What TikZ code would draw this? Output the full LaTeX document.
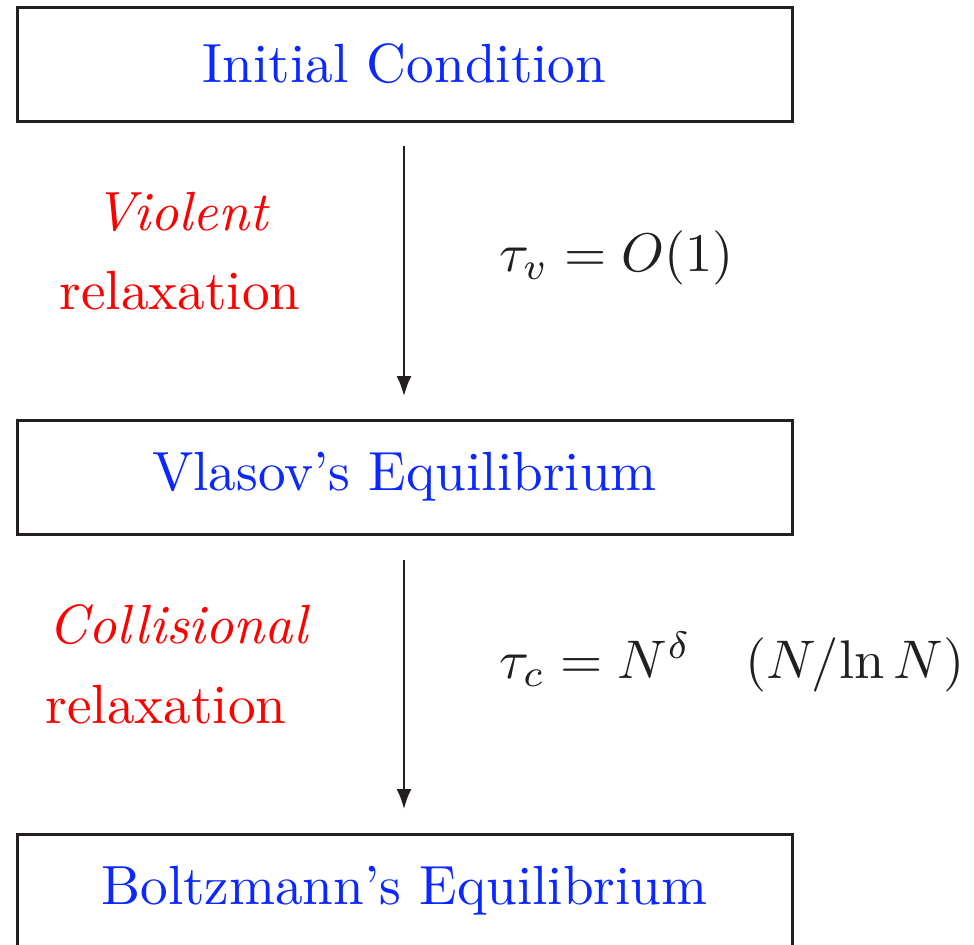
\documentclass[tikz,border=0pt]{standalone}
\usepackage{graphicx}
\usetikzlibrary{arrows.meta}
\definecolor{tblue}{RGB}{10,40,255}
\definecolor{tdark}{RGB}{35,31,32}
\newcommand{\bigtxt}[1]{\scalebox{2.76}{#1}}
\newcommand{\bigmath}[1]{\scalebox{2.72}{#1}}
\begin{document}
\begin{tikzpicture}[x=0.5pt,y=-0.5pt,
  stagebox/.style={draw=tdark,line width=1.5pt,minimum width=387.5pt,minimum height=57pt,inner sep=0pt,text=tblue,font=\normalsize},
  flowarrow/.style={draw=tdark,line width=1pt,-{Latex[length=10pt,width=7.5pt]}},
  redlbl/.style={text=red,font=\normalsize,inner sep=0pt},
  mathlbl/.style={text=tdark,font=\normalsize,inner sep=0pt,anchor=west}]
\useasboundingbox (0,0) rectangle (974,944);
\node[stagebox] (ic) at (404.5,64) {\bigtxt{Initial Condition}};
\node[stagebox] (ve) at (404.5,477) {\bigtxt{Vlasov's Equilibrium}};
\node[stagebox] (be) at (404.5,891) {\bigtxt{Boltzmann's Equilibrium}};
\coordinate (a1s) at (404,146);
\coordinate (a1e) at (404,396);
\coordinate (a2s) at (404,560);
\coordinate (a2e) at (404,809);
\draw[flowarrow] (a1s) -- (a1e);
\draw[flowarrow] (a2s) -- (a2e);
\node[redlbl] (v1) at (181,212) {\bigtxt{\itshape Violent}};
\node[redlbl] (v2) at (180,291) {\bigtxt{relaxation}};
\node[mathlbl] (tv) at (499,258) {\bigmath{$\tau_v = O(1)$}};
\node[redlbl] (c1) at (178,625) {\bigtxt{\itshape Collisional}};
\node[redlbl] (c2) at (166,705) {\bigtxt{relaxation}};
\node[mathlbl] (tc) at (499,662) {\bigmath{$\tau_c = N^\delta \quad (N/\mathrm{ln}\,N)$}};
\end{tikzpicture}
\end{document}
